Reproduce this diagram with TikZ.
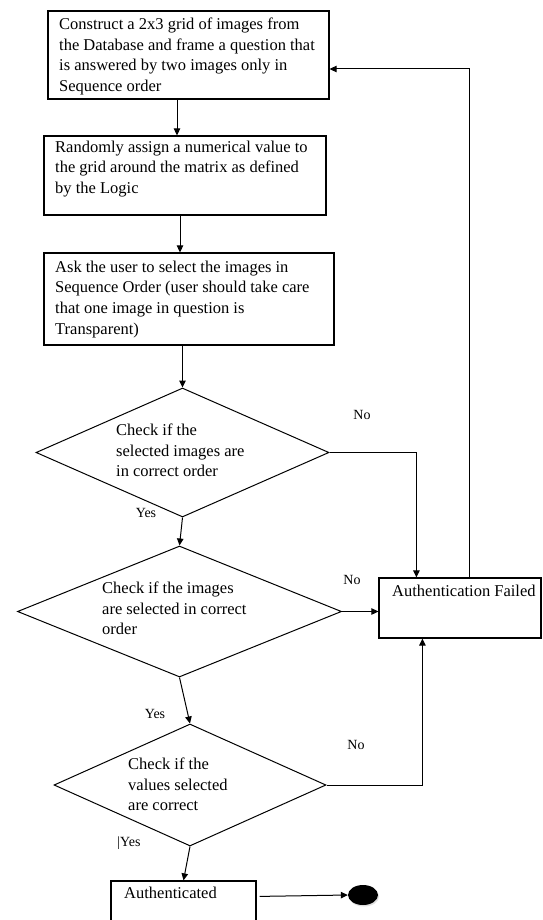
\documentclass[tikz,border=0pt]{standalone}
\usepackage{fontspec}
\setmainfont{Liberation Serif}
\usetikzlibrary{arrows.meta,shapes.geometric,calc,shadows}
\begin{document}
\begin{tikzpicture}[x=1pt,y=-1pt,
  box/.style={draw, line width=1.2pt, rectangle, inner sep=0pt},
  dia/.style={draw, line width=1pt, diamond, inner sep=0pt},
  txt/.style={inner sep=0pt, anchor=north west, align=left, font=\fontsize{16.5}{20.7}\selectfont},
  lbl/.style={inner sep=0pt, font=\fontsize{14}{16}\selectfont},
  conn/.style={line width=1pt},
  arr/.style={conn, -{Triangle[length=7pt,width=6.5pt]}}]
\clip (0,0) rectangle (542,920);
% boxes
\node[box, minimum width=281pt, minimum height=88pt] (b1) at (188.5,55) {};
\node[txt] (b1t) at (59,17.5) {Construct a 2x3 grid of images from\\the Database and frame a question that\\is answered by two images only in\\Sequence order};
\node[box, minimum width=282pt, minimum height=79pt] (b2) at (185,175.5) {};
\node[txt] (b2t) at (55,140.5) {Randomly assign a numerical value to\\the grid around the matrix as defined\\by the Logic};
\node[box, minimum width=290pt, minimum height=92pt] (b3) at (189,299) {};
\node[txt] (b3t) at (55,260.5) {Ask the user to select the images in\\Sequence Order (user should take care\\that one image in question is\\Transparent)};
% diamonds
\node[dia, minimum width=293pt, minimum height=129pt] (d1) at (182.5,452.5) {};
\node[txt] (d1t) at (116,423.5) {Check if the\\selected images are\\in correct order};
\node[dia, minimum width=324pt, minimum height=131pt] (d2) at (179.5,611.5) {};
\node[txt] (d2t) at (102,581.5) {Check if the images\\are selected in correct\\order};
\node[dia, minimum width=272pt, minimum height=122pt] (d3) at (190,785) {};
\node[txt] (d3t) at (128,757.5) {Check if the\\values selected\\are correct};
% outcome boxes
\node[box, minimum width=162pt, minimum height=60pt] (af) at (460,608) {};
\node[txt] (aft) at (392,584.5) {Authentication Failed};
\node[box, minimum width=145pt, minimum height=56pt] (auth) at (183.5,909) {};
\node[txt] (autht) at (124,886.5) {Authenticated};
\node[ellipse, fill=black, minimum width=30pt, minimum height=20pt, inner sep=0pt,
      drop shadow={shadow xshift=1pt, shadow yshift=-1.5pt, fill=black!25}] (endc) at (363,895) {};
% labels
\node[lbl] (no1) at (362,415) {No};
\node[lbl] (no2) at (352,580) {No};
\node[lbl] (no3) at (356,745) {No};
\node[lbl] (yes1) at (146,513) {Yes};
\node[lbl] (yes2) at (155,714) {Yes};
\node[lbl] (yes3) at (129,843) {|Yes};
% connectors
\draw[arr] (177,0 |- b1.south) -- (177,0 |- b2.north);
\draw[arr] (180,0 |- b2.south) -- (180,0 |- b3.north);
\draw[arr] (d1.north |- b3.south) -- (d1.north);
\draw[arr] (d1.south) -- (d2.north);
\draw[arr] (d2.south) -- (d3.north);
\draw[arr] (d3.south) -- (auth.north);
\draw[arr] (d1.east) -| ($(af.north west)+(38,0)$);
\draw[arr] (d2.east) -- (d2.east -| af.west);
\draw[arr] (d3.east) -| ($(af.south west)+(44,0)$);
\draw[arr] ($(af.north west)+(91,0)$) |- ($(b1.east)+(0,14)$);
\draw[arr] ($(auth.north east)+(3,16)$) -- (endc.west);
\end{tikzpicture}
\end{document}
